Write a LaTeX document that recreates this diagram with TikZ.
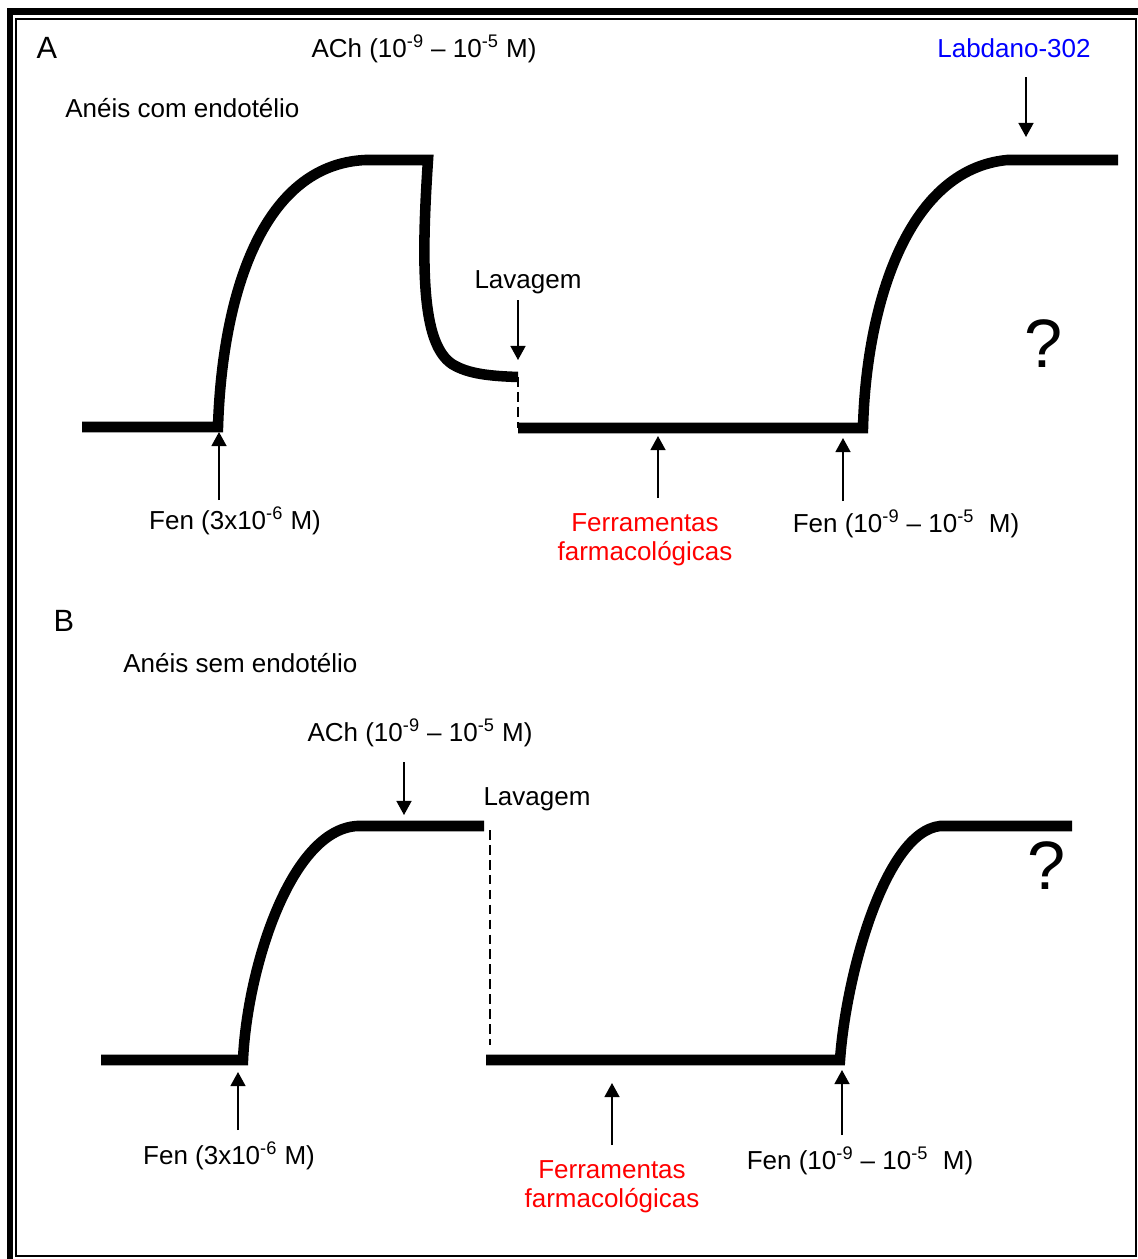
\documentclass[tikz,border=0pt]{standalone}
\usepackage{fontspec}
\setmainfont{Liberation Sans}
\usepackage{xcolor}
\usetikzlibrary{arrows.meta, positioning}

\begin{document}
\begin{tikzpicture}[
    x=0.02cm, y=-0.02cm,
    trace/.style={line width=6pt},
    wash/.style={line width=1.1pt, dash pattern=on 5.5pt off 3pt},
    arrow/.style={-{Triangle[length=8pt, width=8.5pt]}, line width=1pt},
    lbl/.style={inner sep=0pt, anchor=base, font=\fontsize{14.8}{16}\selectfont},
    panel/.style={inner sep=0pt, anchor=base, font=\fontsize{17.5}{20}\selectfont},
    query/.style={inner sep=0pt, anchor=base, font=\fontsize{39}{44}\selectfont}
]

    \useasboundingbox (0,0) rectangle (1138,1259);

    % Frame
    \draw[line width=4pt] (7,11.5) -- (1138,11.5);
    \draw[line width=3.4pt] (10,8) -- (10,1259);
    \draw[line width=1pt] (16,19) rectangle (1136,1256);

    % Panel A: rings with endothelium
    \node[panel] (panA) at (47,58) {A};
    \node[lbl, anchor=base west] (ringsA) at (65,117) {Anéis com endotélio};
    \node[lbl] (achA) at (424,57) {ACh (10\textsuperscript{-9} – 10\textsuperscript{-5} M)};
    \node[lbl, text=blue] (labd) at (1014,57) {Labdano-302};
    \node[lbl] (washA) at (528,288) {Lavagem};
    \node[lbl] (fenA) at (235,529) {Fen (3x10\textsuperscript{-6} M)};
    \node[lbl, text=red, align=center] (toolsA) at (645,560) {Ferramentas\\farmacológicas};
    \node[lbl] (fenCurveA) at (906,532) {Fen (10\textsuperscript{-9} – 10\textsuperscript{-5}\ \ M)};
    \node[query] (qA) at (1044,367) {?};

    \draw[trace] (82,427) -- (218,427)
        .. controls (222,300) and (260,165) .. (365,160) -- (428,160)
        .. controls (420,280) and (424,345) .. (452,364)
        .. controls (468,374) and (490,376) .. (518,377);
    \draw[wash] (518,377) -- (518,428);
    \draw[trace] (518,428) -- (863,428)
        .. controls (866,310) and (905,170) .. (1007,160) -- (1118,160);

    \coordinate (labdOut) at (1026,77);   \coordinate (labdIn) at (1026,137);
    \coordinate (washAOut) at (518,300);  \coordinate (washAIn) at (518,360);
    \coordinate (fenAOut) at (219,500);   \coordinate (fenAIn) at (219,432);
    \coordinate (toolsAOut) at (658,498); \coordinate (toolsAIn) at (658,436);
    \coordinate (fenCurveAOut) at (843,501); \coordinate (fenCurveAIn) at (843,438);

    \draw[arrow] (labdOut) -- (labdIn);
    \draw[arrow] (washAOut) -- (washAIn);
    \draw[arrow] (fenAOut) -- (fenAIn);
    \draw[arrow] (toolsAOut) -- (toolsAIn);
    \draw[arrow] (fenCurveAOut) -- (fenCurveAIn);

    % Panel B: rings without endothelium
    \node[panel] (panB) at (64,631) {B};
    \node[lbl, anchor=base west] (ringsB) at (123,672) {Anéis sem endotélio};
    \node[lbl] (achB) at (420,741) {ACh (10\textsuperscript{-9} – 10\textsuperscript{-5} M)};
    \node[lbl] (washB) at (537,805) {Lavagem};
    \node[lbl] (fenB) at (229,1164) {Fen (3x10\textsuperscript{-6} M)};
    \node[lbl, text=red, align=center] (toolsB) at (612,1207) {Ferramentas\\farmacológicas};
    \node[lbl] (fenCurveB) at (860,1169) {Fen (10\textsuperscript{-9} – 10\textsuperscript{-5}\ \ M)};
    \node[query] (qB) at (1047,889) {?};

    \draw[trace] (101,1060) -- (243,1060)
        .. controls (247,970) and (290,830) .. (357,826) -- (484,826);
    \draw[wash] (490,830) -- (490,1045);
    \draw[trace] (486,1060) -- (840,1060)
        .. controls (846,975) and (885,832) .. (940,826) -- (1072,826);

    \coordinate (achBOut) at (404,762);    \coordinate (achBIn) at (404,815);
    \coordinate (fenBOut) at (238,1130);   \coordinate (fenBIn) at (238,1072);
    \coordinate (toolsBOut) at (612,1145); \coordinate (toolsBIn) at (612,1083);
    \coordinate (fenCurveBOut) at (842,1135); \coordinate (fenCurveBIn) at (842,1070);

    \draw[arrow] (achBOut) -- (achBIn);
    \draw[arrow] (fenBOut) -- (fenBIn);
    \draw[arrow] (toolsBOut) -- (toolsBIn);
    \draw[arrow] (fenCurveBOut) -- (fenCurveBIn);

\end{tikzpicture}
\end{document}
